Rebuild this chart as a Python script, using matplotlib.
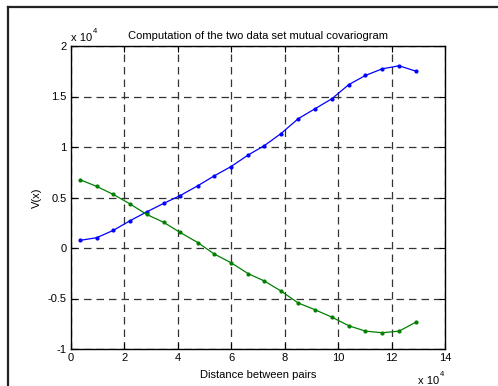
import matplotlib
matplotlib.use("Agg")
import matplotlib.pyplot as plt
from matplotlib.lines import Line2D

plt.rcParams['font.family'] = ['Liberation Sans', 'DejaVu Sans']

# distance between pairs (x 10^4)
distance = [0.33, 0.96, 1.58, 2.21, 2.83, 3.47, 4.08, 4.75, 5.36, 5.99, 6.64,
            7.24, 7.86, 8.51, 9.13, 9.76, 10.40, 11.02, 11.65, 12.28, 12.92]
# covariogram values (x 10^4)
series_blue = [0.075, 0.102, 0.174, 0.270, 0.357, 0.442, 0.518, 0.617, 0.714, 0.806, 0.922,
               1.014, 1.133, 1.281, 1.378, 1.477, 1.618, 1.708, 1.774, 1.804, 1.750]
series_green = [0.677, 0.610, 0.531, 0.436, 0.333, 0.254, 0.155, 0.053, -0.059, -0.146, -0.255,
                -0.327, -0.426, -0.545, -0.611, -0.684, -0.770, -0.823, -0.839, -0.823, -0.733]
xticks = [0, 2, 4, 6, 8, 10, 12, 14]
yticks = [-1, -0.5, 0, 0.5, 1, 1.5, 2]
ytick_labels = ['-1', '-0.5', '0', '0.5', '1', '1.5', '2']

fig = plt.figure(figsize=(4.98, 3.86), dpi=100)
ax = fig.add_axes([71/498, 1-349/386, (445-71)/498, (349-46)/386])

ax.plot(distance, series_blue, color='#0000ff', lw=0.9, marker='o', ms=2.0)
ax.plot(distance, series_green, color='#008000', lw=0.9, marker='o', ms=2.0)

ax.set_xlim(0, 14)
ax.set_ylim(-1, 2)
ax.set_xticks(xticks)
ax.set_xticklabels([str(t) for t in xticks])
ax.set_yticks(yticks)
ax.set_yticklabels(ytick_labels)
ax.tick_params(direction='in', length=4, width=0.8, labelsize=8, top=True, right=True, pad=3)
ax.grid(True, color='#333333', linestyle=(0, (6, 4)), linewidth=0.9)
for s in ax.spines.values():
    s.set_linewidth(1.0)
    s.set_color('black')

ax.set_title('Computation of the two data set mutual covariogram', fontsize=8, pad=5)
ax.set_xlabel('Distance between pairs', fontsize=8, labelpad=5)
ax.set_ylabel('V(x)', fontsize=8, labelpad=4)

# MATLAB style exponent labels
fig.text(71/498, 1-41/386, 'x 10', fontsize=8, ha='left', va='baseline')
fig.text(93/498, 1-33/386, '4', fontsize=5.5, ha='left', va='baseline')
fig.text(418/498, 1-384/386, 'x 10', fontsize=8, ha='left', va='baseline')
fig.text(440/498, 1-376/386, '4', fontsize=5.5, ha='left', va='baseline')

# outer frame lines (left and top)
fig.add_artist(Line2D([7.5/498, 7.5/498], [0, 1-6.5/386], transform=fig.transFigure,
                      color='#222222', lw=1.6))
fig.add_artist(Line2D([7.5/498, 1], [1-6.5/386, 1-6.5/386], transform=fig.transFigure,
                      color='#222222', lw=1.6))

fig.savefig('out.png', dpi=100)
